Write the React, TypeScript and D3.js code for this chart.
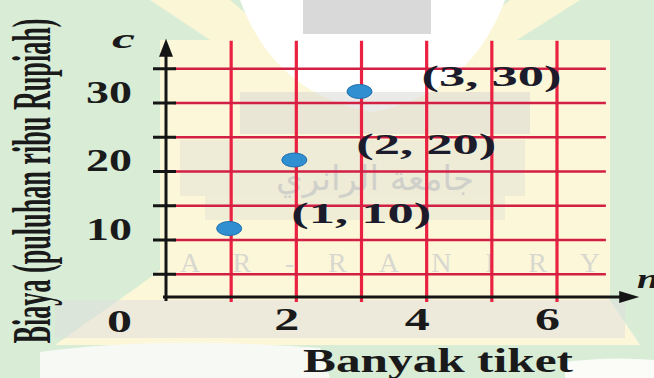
import React from "react";
import * as d3 from "d3";

// data
const ticketCounts = [1, 2, 3];
const costs = [10, 20, 30];
const pointLabels = ["(1, 10)", "(2, 20)", "(3, 30)"];
const xGridValues = [1, 2, 3, 4, 5, 6];
const yGridValues = [5, 10, 15, 20, 25, 30, 35];
const xTickValues = [2, 4, 6];
const yTickValues = [10, 20, 30];

const W = 654;
const H = 378;
const serif = "Liberation Serif, Times New Roman, Times, serif";

function App() {
  const x = d3.scaleLinear().domain([0, 6]).range([166, 557]);
  const y = d3.scaleLinear().domain([0, 30]).range([297, 91.5]);

  // the printed grid sits a bit below the value scale in the scan
  const gridShift = 11.5;
  const xEnd = x(7.2);
  const yTop = y(37.4);

  const txt = { fontFamily: serif, fontWeight: 700 as const, fill: "#1a1a1a" };

  return (
    <svg width={W} height={H} style={{ position: "absolute", left: 0, top: 0 }}>
      {/* scanned page background with faded watermark */}
      <rect width={W} height={H} fill="#d8ecd6" />
      <path d="M150,0 L230,0 L300,60 L240,60 Z" fill="#fbf6d6" />
      <path d="M510,0 L580,0 L470,70 L420,70 Z" fill="#fbf6d6" />
      <path d="M160,40 L610,40 L610,300 L640,345 L55,345 L140,285 L160,270 Z" fill="#fcf7d8" />
      <path d="M240,0 L505,0 Q470,95 372,112 Q275,95 240,0 Z" fill="#ffffff" />
      <rect x={303} y={0} width={128} height={34} fill="#d9d9d9" />
      <rect x={240} y={92} width={290} height={42} fill="#d6d6d2" opacity={0.5} />
      <rect x={180} y={140} width={345} height={56} fill="#dadad6" opacity={0.4} />
      <rect x={205} y={196} width={300} height={24} fill="#dadad6" opacity={0.35} />
      <rect x={55} y={300} width={570} height={38} fill="#dedede" opacity={0.5} />
      <path d="M40,378 L40,352 Q160,336 320,348 L330,378 Z" fill="#f7f9f4" />
      <path d="M565,378 L565,362 Q610,356 654,360 L654,378 Z" fill="#fbfcf8" />
      <text x={375} y={190} textAnchor="middle" fontSize={34} fill="#d0d0ca" fontFamily="DejaVu Sans, sans-serif">
        جامعة الرانري
      </text>
      <text x={180} y={272} textLength={420} lengthAdjust="spacing" fontSize={28} fill="#d8d8d0" fontFamily={serif}>
        A R - R A N I R Y
      </text>

      {/* grid */}
      <g>
        {xGridValues.map((n) => (
          <line
            key={"v" + n}
            x1={x(n)}
            x2={x(n)}
            y1={yTop}
            y2={y(0) + 5}
            stroke="#ea2140"
            strokeWidth={3.2}
          />
        ))}
      </g>
      <g transform={`translate(0,${gridShift})`}>
        {yGridValues.map((c) => (
          <g key={"h" + c}>
            <line x1={x(0) + 8} x2={x(6.75)} y1={y(c)} y2={y(c)} stroke="#d21f44" strokeWidth={2.6} />
            <line x1={x(0) - 13} x2={x(0) + 10} y1={y(c)} y2={y(c)} stroke="#151515" strokeWidth={3} />
          </g>
        ))}
      </g>

      {/* axes */}
      <line x1={x(0)} x2={x(0)} y1={y(0) + 4} y2={yTop + 10} stroke="#151515" strokeWidth={3} />
      <path
        d={`M${x(0)},${yTop - 2} L${x(0) - 7},${yTop + 16} L${x(0) + 7},${yTop + 16} Z`}
        fill="#151515"
      />
      <line x1={x(0) - 3} x2={xEnd - 10} y1={y(0)} y2={y(0)} stroke="#151515" strokeWidth={3} />
      <path
        d={`M${xEnd + 4},${y(0)} L${xEnd - 16},${y(0) - 6} L${xEnd - 16},${y(0) + 6} Z`}
        fill="#151515"
      />

      {/* points */}
      {ticketCounts.map((n, i) => (
        <ellipse
          key={"p" + n}
          cx={x(n) - 2}
          cy={y(costs[i])}
          rx={12.5}
          ry={7}
          fill="#2f8fd0"
          stroke="#1f6fae"
          strokeWidth={1}
        />
      ))}
      {ticketCounts.map((n, i) => (
        <text
          key={"l" + n}
          x={x(n) + 60}
          y={y(costs[i]) - 6}
          fontSize={30}
          {...txt}
          fill="#1b1b2b"
          textLength={140}
          lengthAdjust="spacingAndGlyphs"
        >
          {pointLabels[i]}
        </text>
      ))}

      {/* tick labels */}
      {yTickValues.map((c) => (
        <text
          key={"yt" + c}
          x={86}
          y={y(c) + 11}
          fontSize={31}
          {...txt}
          textLength={46}
          lengthAdjust="spacingAndGlyphs"
        >
          {c}
        </text>
      ))}
      <text x={107} y={332} fontSize={31} {...txt} textLength={25} lengthAdjust="spacingAndGlyphs">
        0
      </text>
      {xTickValues.map((n) => (
        <text
          key={"xt" + n}
          x={x(n) - 22}
          y={330}
          fontSize={31}
          {...txt}
          textLength={25}
          lengthAdjust="spacingAndGlyphs"
        >
          {n}
        </text>
      ))}

      {/* axis letters and titles */}
      <text x={112} y={48} fontSize={28} {...txt} fontStyle="italic" textLength={23} lengthAdjust="spacingAndGlyphs">
        c
      </text>
      <text x={637} y={288} fontSize={28} {...txt} fontStyle="italic" textLength={22} lengthAdjust="spacingAndGlyphs">
        n
      </text>
      <text x={303} y={372} fontSize={33} {...txt} textLength={270} lengthAdjust="spacingAndGlyphs">
        Banyak tiket
      </text>
      <text
        transform="translate(50,181) rotate(-90) scale(1,2)"
        textAnchor="middle"
        fontSize={27}
        {...txt}
        textLength={325}
        lengthAdjust="spacingAndGlyphs"
      >
        Biaya (puluhan ribu Rupiah)
      </text>
    </svg>
  );
}

export default App;
